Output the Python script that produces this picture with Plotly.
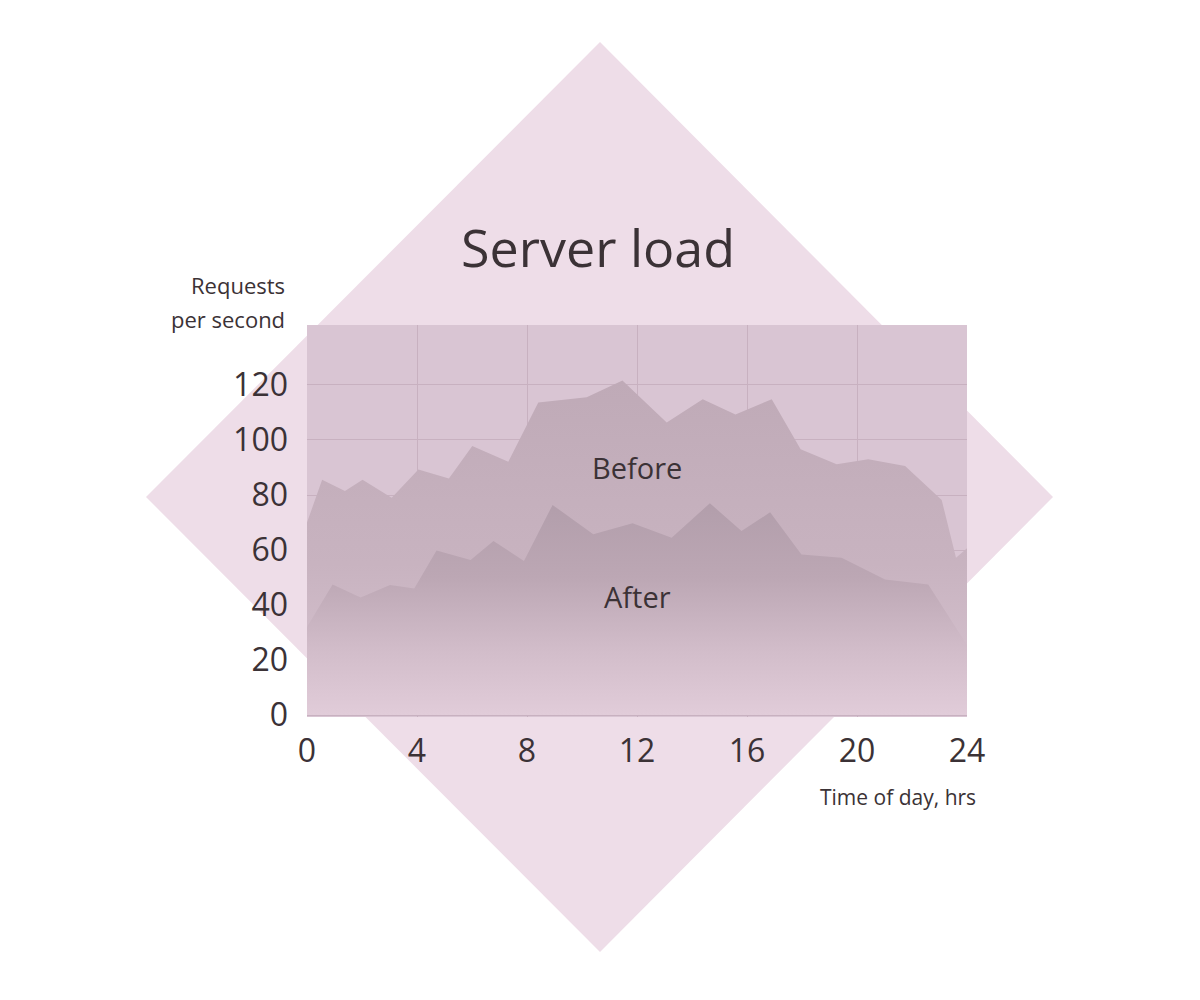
import plotly.graph_objects as go

# Data
before_hours = [0, 0.55, 1.38, 2.02, 3.08, 4.05, 5.16, 6.01, 7.32, 8.41, 10.17, 11.47,
                13.08, 14.39, 15.58, 16.9, 17.95, 19.26, 20.41, 21.75, 23.08, 23.6, 24]
before_rps = [70, 85.5, 81.5, 85.5, 79, 89.3, 86, 97.8, 92.1, 113.6, 115.5, 121.6,
              106.4, 114.8, 109.3, 114.8, 96.6, 91.2, 93, 90.5, 78.2, 57.2, 60.6]

after_hours = [0, 0.93, 1.95, 3.02, 3.9, 4.71, 5.95, 6.78, 7.89, 8.93, 10.41, 11.84,
               13.26, 14.65, 15.8, 16.84, 17.98, 19.44, 21.02, 22.59, 24]
after_rps = [32, 47.5, 42.7, 47.3, 46, 59.8, 56.4, 63.3, 56, 76.4, 65.7, 69.7,
             64.5, 77, 66.9, 73.7, 58.4, 57.2, 49.3, 47.5, 25.5]

x_ticks = [0, 4, 8, 12, 16, 20, 24]
y_ticks = [0, 20, 40, 60, 80, 100, 120]

FONT = "Open Sans"
TEXT = "#3b3236"

fig = go.Figure()

fig.add_trace(go.Scatter(
    x=before_hours, y=before_rps, mode="lines", line=dict(width=0),
    fill="tozeroy",
    fillgradient=dict(type="vertical", start=0, stop=122,
                      colorscale=[[0, "#d9c5d2"], [0.45, "#c8b3c0"], [1, "#bfaab7"]]),
    hoverinfo="skip", showlegend=False,
))
fig.add_trace(go.Scatter(
    x=after_hours, y=after_rps, mode="lines", line=dict(width=0),
    fill="tozeroy",
    fillgradient=dict(type="vertical", start=0, stop=77,
                      colorscale=[[0, "#e1ccd9"], [0.3, "#d2bdca"], [0.65, "#bca7b4"], [1, "#b29eab"]]),
    hoverinfo="skip", showlegend=False,
))

# Screenshot pixel positions of the plot area (page has an 8px body margin)
L, R, T, B = 307, 967, 325, 717
OFF = 8
def px(x):
    return (x - L) / (R - L)
def py(y):
    return (B - y) / (B - T)

diamond = (f"M {px(600)} {py(42)} L {px(1053)} {py(497)} "
           f"L {px(600)} {py(952)} L {px(146)} {py(497)} Z")

shapes = [
    dict(type="path", xref="paper", yref="paper", path=diamond,
         fillcolor="#eedde8", line=dict(width=0), layer="below"),
    dict(type="rect", xref="paper", yref="paper", x0=0, x1=1, y0=0, y1=1,
         fillcolor="#d9c5d3", line=dict(width=0), layer="below"),
]

annotations = [
    dict(text="Server load", x=px(598), y=py(247), xref="paper", yref="paper",
         showarrow=False, xanchor="center", yanchor="middle",
         font=dict(family=FONT, size=52, color=TEXT)),
    dict(text="Requests", x=px(287), y=py(285), xref="paper", yref="paper",
         showarrow=False, xanchor="right", yanchor="middle",
         font=dict(family=FONT, size=22, color=TEXT)),
    dict(text="per second", x=px(287), y=py(319), xref="paper", yref="paper",
         showarrow=False, xanchor="right", yanchor="middle",
         font=dict(family=FONT, size=22, color=TEXT)),
    dict(text="Time of day, hrs", x=px(978), y=py(797), xref="paper", yref="paper",
         showarrow=False, xanchor="right", yanchor="middle",
         font=dict(family=FONT, size=21, color=TEXT)),
    dict(text="Before", x=12, y=90, xref="x", yref="y", showarrow=False,
         xanchor="center", yanchor="middle",
         font=dict(family=FONT, size=29, color=TEXT)),
    dict(text="After", x=12, y=43, xref="x", yref="y", showarrow=False,
         xanchor="center", yanchor="middle",
         font=dict(family=FONT, size=29, color=TEXT)),
]

fig.update_layout(
    width=1200, height=1000,
    margin=dict(l=L - OFF, r=1200 - R + OFF, t=T - OFF, b=1000 - B + OFF, pad=0),
    paper_bgcolor="white",
    plot_bgcolor="rgba(0,0,0,0)",
    shapes=shapes,
    annotations=annotations,
    xaxis=dict(range=[0, 24], tickvals=x_ticks, ticktext=[str(v) for v in x_ticks],
               showgrid=True, gridcolor="#c8b1c0", gridwidth=1, zeroline=False,
               showline=False, ticks="", ticklabelstandoff=12,
               tickfont=dict(family=FONT, size=32, color=TEXT), layer="below traces"),
    yaxis=dict(range=[-0.7, 141.8], tickvals=y_ticks, ticktext=[str(v) for v in y_ticks],
               showgrid=True, gridcolor="#c8b1c0", gridwidth=1, zeroline=False,
               showline=False, ticks="", ticklabelstandoff=18,
               tickfont=dict(family=FONT, size=32, color=TEXT), layer="below traces"),
)

fig.write_html("out.html")
